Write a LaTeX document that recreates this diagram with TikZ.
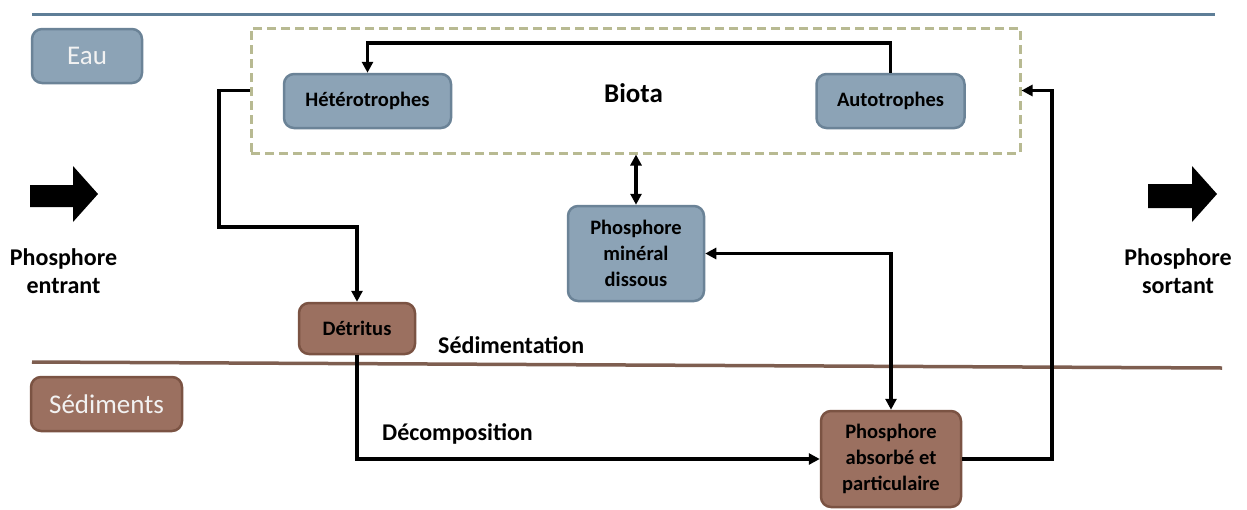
\documentclass[tikz,border=0pt]{standalone}
\usepackage{fontspec}
\setmainfont{Carlito}
\usetikzlibrary{arrows.meta}
\definecolor{bluefill}{HTML}{8CA3B6}
\definecolor{blueedge}{HTML}{6B8397}
\definecolor{brownfill}{HTML}{9B7060}
\definecolor{brownedge}{HTML}{7B5343}
\definecolor{topline}{HTML}{5E7E97}
\definecolor{bottomline}{HTML}{7E5E50}
\definecolor{dashcol}{HTML}{B8BA92}
\definecolor{paletext}{HTML}{F2F2F2}
\begin{document}
\begin{tikzpicture}[x=1pt,y=-1pt,
  box/.style={draw, line width=2.5pt, rounded corners=10pt, inner sep=0pt, align=center,
    font=\fontsize{20.5}{26}\selectfont\bfseries},
  bluebox/.style={box, fill=bluefill, draw=blueedge},
  brownbox/.style={box, fill=brownfill, draw=brownedge},
  zonebox/.style={draw, line width=2.5pt, rounded corners=10pt, inner sep=0pt,
    text=paletext, font=\fontsize{27}{30}\selectfont},
  flow/.style={line width=3.5pt, -{Triangle[length=11pt,width=11pt]}},
  twoway/.style={line width=3.5pt, {Triangle[length=11pt,width=11pt]}-{Triangle[length=11pt,width=11pt]}},
  lbl/.style={font=\fontsize{24}{28}\selectfont\bfseries, inner sep=0pt},
  bigarrow/.style={fill=black}
]
\useasboundingbox (0,0) rectangle (1247,509);

% separating lines
\draw[topline, line width=3pt] (32,14) -- (1215,14);
\draw[bottomline, line width=3.5pt] (32,362) -- (1222,368);

% zone labels
\node[zonebox, fill=bluefill, draw=blueedge, minimum width=110pt, minimum height=54pt] (eau) at (87,56) {Eau};
\node[zonebox, fill=brownfill, draw=brownedge, minimum width=151pt, minimum height=54pt] (sed) at (106.5,404) {Sédiments};

% biota zone
\node[draw=dashcol, line width=3pt, dash pattern=on 9pt off 5pt, minimum width=769pt, minimum height=125pt, inner sep=0pt] (biota) at (635.5,90.5) {};
\node[font=\fontsize{27}{30}\selectfont\bfseries, inner sep=0pt, anchor=base] (biotalbl) at (633.5,102) {Biota};

% boxes
\node[bluebox, minimum width=167pt, minimum height=54pt] (het) at (367.5,101) {Hétérotrophes};
\node[bluebox, minimum width=148pt, minimum height=54pt] (aut) at (890.5,101) {Autotrophes};
\node[bluebox, minimum width=136pt, minimum height=95pt] (pmd) at (636,253.5) {Phosphore\\minéral\\dissous};
\node[brownbox, minimum width=116pt, minimum height=51pt] (det) at (357,328.5) {Détritus};
\node[brownbox, minimum width=140pt, minimum height=96pt] (pap) at (891,459) {Phosphore\\absorbé et\\particulaire};

% labels
\node[lbl, anchor=base west] (sedim) at (438,353) {Sédimentation};
\node[lbl, anchor=base west] (decomp) at (382,440) {Décomposition};
\node[lbl, align=center] (pin) at (63.5,271) {Phosphore\\entrant};
\node[lbl, align=center] (pout) at (1178,271) {Phosphore\\sortant};

% big arrows
\fill[bigarrow] (30,185) -- (73,185) -- (73,166) -- (98,194) -- (73,222) -- (73,207) -- (30,207) -- cycle;
\fill[bigarrow] (1148,184) -- (1192,184) -- (1192,166) -- (1217,194) -- (1192,222) -- (1192,208) -- (1148,208) -- cycle;

% connectors
\coordinate (topbend) at (0,43);
\coordinate (leftbend) at (219,0);
\coordinate (midbend) at (0,227);
\coordinate (rightbend) at (1052,0);

\draw[flow] (aut.north) -- (aut.north |- topbend) -- (het.north |- topbend) -- (het.north);
\draw[flow] (biota.west) -- (leftbend |- biota.west) -- (leftbend |- midbend) -- (det.north |- midbend) -- (det.north);
\draw[twoway] (pmd.north |- biota.south) -- (pmd.north);
\draw[twoway] (pmd.east) -| (pap.north);
\draw[flow] (det.south) |- (pap.west);
\draw[flow] (pap.east) -- (rightbend |- pap.east) -- (rightbend |- biota.east) -- (biota.east);
\end{tikzpicture}
\end{document}
